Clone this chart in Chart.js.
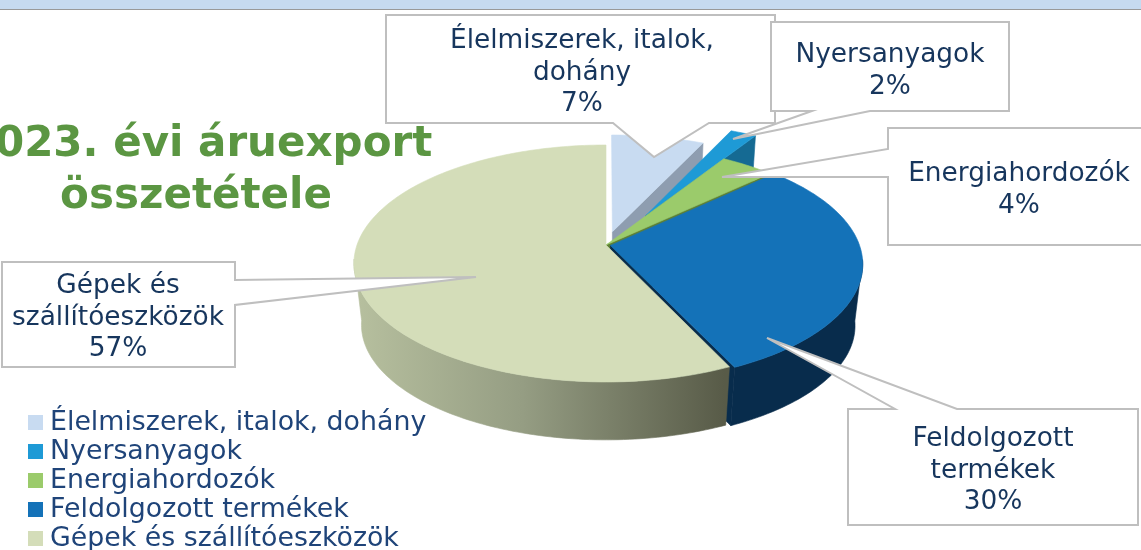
<!DOCTYPE html>
<html lang="hu">
<head>
<meta charset="utf-8">
<title>2023. évi áruexport összetétele</title>
<script src="https://cdn.jsdelivr.net/npm/chart.js@4"></script>
<style>
    html, body { margin: 0; padding: 0; background: #fff; overflow: hidden; }
    #wrap { position: relative; width: 1141px; height: 550px; overflow: hidden; font-family: "DejaVu Sans", sans-serif; }
    #pie { position: absolute; left: 0; top: 0; }
    #strip { position: absolute; left: 0; top: 0; width: 1141px; height: 9px; background: #c6daf0; border-bottom: 1px solid #999; }
    #title { position: absolute; left: -40px; top: 116px; width: 472px; text-align: center; color: #5b9642; font-weight: bold; font-size: 42px; line-height: 52px; white-space: nowrap; }
    #title span { position: relative; left: 3px; }
    .callout { position: absolute; text-align: center; color: #17365d; font-size: 26.4px; line-height: 31.5px; white-space: nowrap; transform: translateX(-50%); }
    #legend { position: absolute; left: 28px; top: 406px; margin: 0; padding: 0; list-style: none; color: #1f4479; font-size: 26.8px; }
    #legend li { height: 29px; line-height: 29px; white-space: nowrap; }
    #legend i { display: inline-block; width: 15px; height: 15px; margin-right: 7px; }
</style>
</head>
<body>
<div id="wrap">
    <canvas id="pie" width="1141" height="550"></canvas>
    <div id="strip"></div>
    <div id="title"><span>2023. évi áruexport</span><br>összetétele</div>
    <ul id="legend"></ul>
</div>
<script>
const categories = ['Élelmiszerek, italok, dohány', 'Nyersanyagok', 'Energiahordozók', 'Feldolgozott termékek', 'Gépek és szállítóeszközök'];
const shares = [7, 2, 4, 30, 57];
const calloutLines = [
    ['Élelmiszerek, italok,', 'dohány'],
    ['Nyersanyagok'],
    ['Energiahordozók'],
    ['Feldolgozott', 'termékek'],
    ['Gépek és', 'szállítóeszközök']
];

const topColors = ['#c8dbf1', '#1e9ad6', '#9bcb6b', '#1472b8', '#d4ddb9'];
const sideColors = ['#8e9db0', '#156a93', '#5f8033', '#082c4c', null];
const explode = [0.12, 0.3, 0, 0.018, 0];
const shiftX = [0, 5, 0, 0, 0];

// perspective of the tilted disc
const CX = 606, CY = 245, RX = 249, KY = 115.6, PERSP = 0.156;
const DEPTH = 62, BOTTOM_SCALE = 0.97;

function project(u, v, lower) {
    const s = lower ? BOTTOM_SCALE : 1;
    const d = 1 + PERSP * v;
    return [CX + RX * s * u / d, CY + (lower ? DEPTH : 0) - KY * s * v / d];
}

function slicePoint(arc, i, angle, lower) {
    const mid = (arc.startAngle + arc.endAngle) / 2;
    const u = explode[i] * Math.cos(mid) + Math.cos(angle);
    const v = -explode[i] * Math.sin(mid) - Math.sin(angle);
    const p = project(u, v, lower);
    return [p[0] + shiftX[i], p[1]];
}

function apexPoint(arc, i, lower) {
    const mid = (arc.startAngle + arc.endAngle) / 2;
    const p = project(explode[i] * Math.cos(mid), -explode[i] * Math.sin(mid), lower);
    return [p[0] + shiftX[i], p[1]];
}

function fillPoly(ctx, points, fill) {
    ctx.beginPath();
    points.forEach((p, i) => i ? ctx.lineTo(p[0], p[1]) : ctx.moveTo(p[0], p[1]));
    ctx.closePath();
    ctx.fillStyle = fill;
    ctx.fill();
    // hides the seams between neighbouring faces
    ctx.strokeStyle = fill;
    ctx.lineWidth = 0.6;
    ctx.stroke();
}

function arcAngles(from, to) {
    const steps = Math.max(2, Math.ceil((to - from) / 0.02));
    const out = [];
    for (let i = 0; i <= steps; i++) out.push(from + (to - from) * i / steps);
    return out;
}

// Draws the arcs Chart.js laid out as extruded slices
const pie3d = {
    id: 'pie3d',
    beforeDatasetDraw(chart) {
        const ctx = chart.ctx;
        const arcs = chart.getDatasetMeta(0).data;
        const wallFrom = 0.12, wallTo = Math.PI - 0.12;

        const gradient = ctx.createLinearGradient(358, 0, 724, 0);
        gradient.addColorStop(0, '#b6bf9e');
        gradient.addColorStop(0.45, '#959d83');
        gradient.addColorStop(1, '#585b48');

        ctx.save();
        arcs.forEach((arc, i) => {
            const side = sideColors[i] || gradient;

            // cut face at the end of the slice
            if (sideColors[i]) {
                fillPoly(ctx, [
                    apexPoint(arc, i, false),
                    slicePoint(arc, i, arc.endAngle, false),
                    slicePoint(arc, i, arc.endAngle, true),
                    apexPoint(arc, i, true)
                ], side);
            }

            // outer wall, only the part that faces the viewer
            const from = Math.max(arc.startAngle, wallFrom);
            const to = Math.min(arc.endAngle, wallTo);
            if (to > from) {
                const angles = arcAngles(from, to);
                fillPoly(ctx, angles.map(a => slicePoint(arc, i, a, false))
                    .concat(angles.slice().reverse().map(a => slicePoint(arc, i, a, true))), side);
            }

            // top
            const top = [apexPoint(arc, i, false)].concat(arcAngles(arc.startAngle, arc.endAngle).map(a => slicePoint(arc, i, a, false)));
            fillPoly(ctx, top, arc.options.backgroundColor);
        });
        ctx.restore();
        return false;
    },
    afterDraw(chart) {
        const ctx = chart.ctx;
        ctx.save();
        ctx.lineWidth = 2;
        ctx.strokeStyle = '#bfbfbf';
        ctx.fillStyle = '#fff';
        calloutShapes.forEach(shape => {
            ctx.beginPath();
            shape.forEach((p, i) => i ? ctx.lineTo(p[0], p[1]) : ctx.moveTo(p[0], p[1]));
            ctx.closePath();
            ctx.fill();
            ctx.stroke();
        });
        ctx.restore();
    }
};

// box outlines with their pointers
const calloutShapes = [
    [[386, 15], [775, 15], [775, 123], [709, 123], [654, 157], [613, 123], [386, 123]],
    [[235, 262], [235, 280], [476, 277], [235, 305], [235, 367], [2, 367], [2, 262]],
    [[848, 409], [895, 409], [767, 338], [957, 409], [1138, 409], [1138, 525], [848, 525]],
    [[888, 128], [1150, 128], [1150, 245], [888, 245], [888, 177], [722, 177], [888, 149]],
    [[771, 22], [1009, 22], [1009, 111], [870, 111], [733, 139], [812, 111], [771, 111]]
];

const calloutAnchors = [[582, 23], [890, 37], [1019, 156], [993, 421], [118, 268]];

const wrap = document.getElementById('wrap');
categories.forEach((name, i) => {
    const box = document.createElement('div');
    box.className = 'callout';
    box.style.left = calloutAnchors[i][0] + 'px';
    box.style.top = calloutAnchors[i][1] + 'px';
    box.innerHTML = calloutLines[i].concat(shares[i] + '%').join('<br>');
    box.style.zIndex = 2;
    wrap.appendChild(box);

    const item = document.createElement('li');
    item.innerHTML = `<i style="background:${topColors[i]}"></i>${name}`;
    document.getElementById('legend').appendChild(item);
});

new Chart(document.getElementById('pie'), {
    type: 'pie',
    data: {
        labels: categories,
        datasets: [{ data: shares, backgroundColor: topColors, borderWidth: 0 }]
    },
    options: {
        responsive: false,
        animation: false,
        plugins: { legend: { display: false }, tooltip: { enabled: false } }
    },
    plugins: [pie3d]
});
</script>
</body>
</html>
